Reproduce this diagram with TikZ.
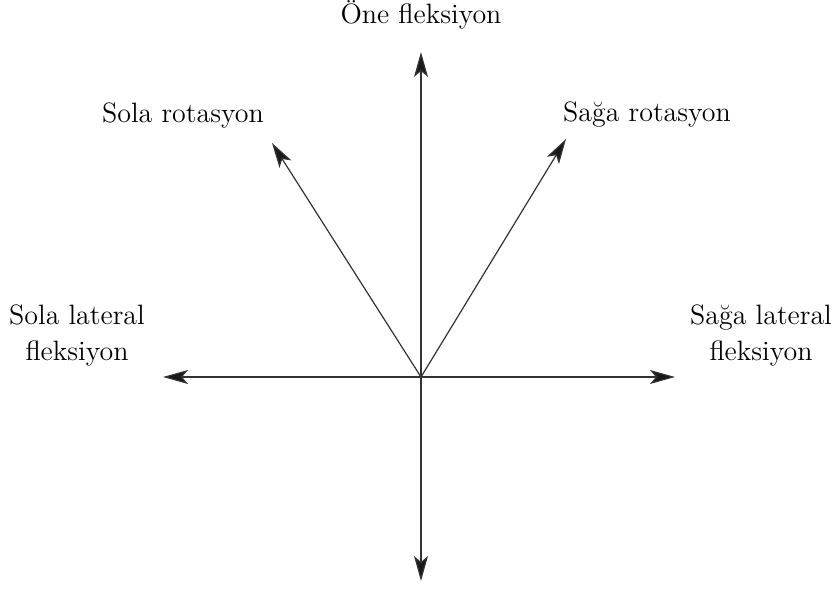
\documentclass[tikz,border=0pt]{standalone}
\usetikzlibrary{arrows.meta}
\begin{document}
\begin{tikzpicture}[x=0.5pt, y=-0.5pt, line cap=round, line join=round,
		axis/.style={draw=black!80, line width=0.6pt,
			-{Stealth[length=12.5pt, width=7pt, inset=3pt, fill=black!90]}},
		lbl/.style={font=\fontsize{14}{18}\selectfont, inner sep=0pt, align=center}]
			% Fix picture bounds to the reference size
			\useasboundingbox (0,0) rectangle (832,589);
			
			% Centre point and arrow ends
			\coordinate (O) at (421,377);
			\coordinate (up) at (421,52);
			\coordinate (down) at (421,581);
			\coordinate (left) at (163,377);
			\coordinate (right) at (675,377);
			\coordinate (upleft) at (272,143);
			\coordinate (upright) at (566,139);
			
			% Arrows from the centre
			\draw[axis] (O) -- (up);
			\draw[axis] (O) -- (down);
			\draw[axis] (O) -- (left);
			\draw[axis] (O) -- (right);
			\draw[axis] (O) -- (upleft);
			\draw[axis] (O) -- (upright);
			
			% Labels
			\node[lbl] (flex) at (421,15) {Öne fleksiyon};
			\node[lbl] (lrot) at (183,115) {Sola rotasyon};
			\node[lbl] (rrot) at (647,115) {Sağa rotasyon};
			\node[lbl] (llat) at (77,335) {Sola lateral\\fleksiyon};
			\node[lbl] (rlat) at (761,335) {Sağa lateral\\fleksiyon};
		\end{tikzpicture}
\end{document}
